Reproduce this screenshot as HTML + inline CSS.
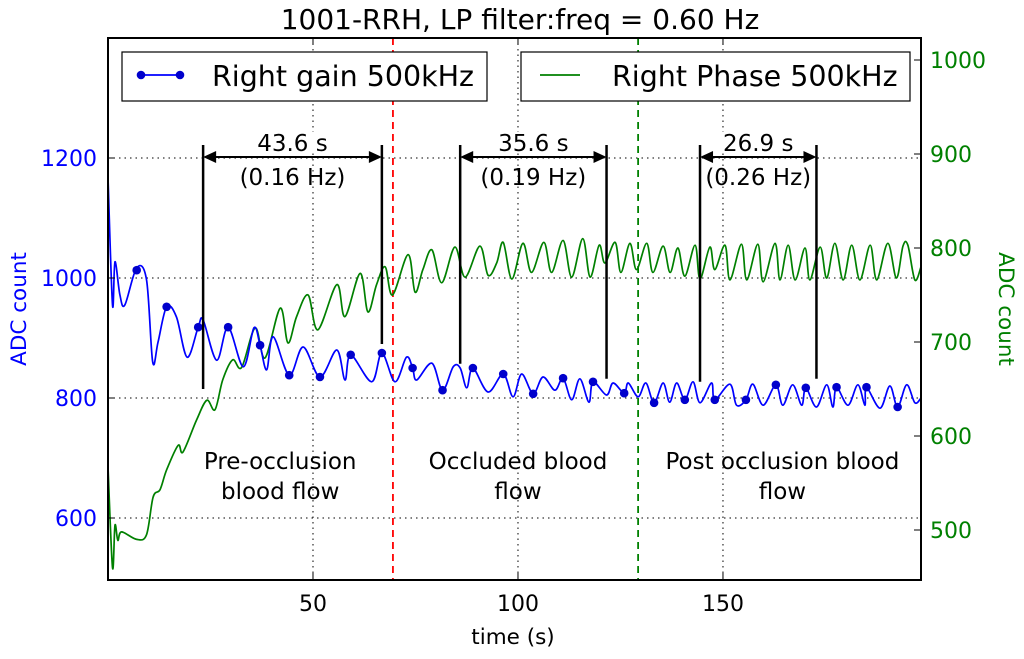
<!DOCTYPE html>
<html><head><meta charset="utf-8"><style>
body{margin:0;background:#fff;}
svg text{font-family:"DejaVu Sans","Liberation Sans",sans-serif;}
</style></head><body>
<svg id="chart" width="1024" height="654" viewBox="0 0 1024 654" xmlns="http://www.w3.org/2000/svg"></svg>
<script>
const xTicks=[50,100,150];
const leftTicks=[600,800,1000,1200];
const rightTicks=[500,600,700,800,900,1000];
const blueT=[0,1.1,1.7,2.9,4.1,7,9.4,10.9,12.2,14.3,16.7,19.3,22,23.2,26.5,29.3,33,35.6,37.1,38.7,40.3,44.2,47.6,51.7,55.8,57.8,59.2,64.3,66.8,70,72.8,74.3,75.3,79,81.6,84.2,85.9,87.5,89,92.7,96.4,98.8,100.9,103.7,106.1,109,111,113.1,115.1,117.3,118.3,121.6,123.2,125.9,126.9,129.3,131.2,133.2,135.4,137,138.7,140.7,142.7,144.4,147.2,148,151.7,153.3,155.6,157.3,159.8,162.9,164.6,167,169.2,170.2,172.8,175.3,176.8,177.7,180.5,182.9,184.6,185,188.3,190.7,192.6,194.8,196.8,198.3];
const blueV=[1168,955,1027,972,955,1017,997,860,893,952,935,868,918,930,863,918,852,917,888,847,902,838,885,835,880,830,872,827,875,827,868,850,830,858,813,852,850,817,850,810,840,802,840,807,835,813,833,797,832,793,827,805,825,808,825,802,825,792,825,793,825,797,827,792,825,797,823,788,797,823,788,822,788,822,788,817,785,822,785,818,788,822,788,818,783,820,785,822,792,800];
const markerT=[7,14.3,22,29.3,37.1,44.2,51.7,59.2,66.8,74.3,81.6,89,96.4,103.7,111,118.3,125.9,133.2,140.7,148,155.6,162.9,170.2,177.7,185,192.6];
const markerV=[1013,952,918,918,888,838,835,872,875,850,813,850,840,807,833,827,808,792,797,797,797,822,817,818,818,785];
const greenT=[0,1.1,1.7,2.4,3.3,7,9.4,11,12.7,14.3,17.1,18.3,21.6,24.1,26.1,28,30.4,32.6,35.9,38.3,42,43.9,46,48.8,51.2,55.8,57.8,61.5,63.4,65.5,67.6,69.4,73.2,74.9,76.8,79,81.4,84.6,87.1,90.7,92.7,94.8,96.4,98.5,101.2,103.3,106.3,108.2,111,113.1,115.8,117.6,119.8,121.2,123.7,125.1,127.3,128.9,131.4,132.9,135.4,137.1,139,140.7,143.2,144.4,146.8,148,150.5,151.7,154.5,155.8,158.5,159.8,162.7,163.9,165.9,167.6,170,171.2,173.7,175.3,177.3,179.3,181.4,183.4,185.9,187.5,190.2,192.3,193.9,195.1,196.8,198.3];
const greenV=[567,460,505,489,498,490,495,535,543,564,590,583,617,638,628,660,681,673,715,683,736,699,727,750,713,761,727,773,732,761,780,750,793,753,777,798,763,801,769,802,771,784,806,767,805,774,806,774,808,769,810,769,803,784,806,774,805,777,805,774,802,774,800,770,803,767,801,777,803,766,804,766,804,764,805,766,803,766,800,766,801,768,805,766,803,766,803,766,805,768,802,803,766,780];
const brackets=[[23.2,66.8,"43.6 s","(0.16 Hz)"],[85.9,121.6,"35.6 s","(0.19 Hz)"],[144.4,172.8,"26.9 s","(0.26 Hz)"]];
const bracketBottomL=[815,890,857,832,827,832];
const regions=[[42,"Pre-occlusion","blood flow"],[100,"Occluded blood","flow"],[164.5,"Post  occlusion blood","flow"]];
const events=[69.5,129.3];

const L=108,R=921,T=38,B=580;
const X=t=>L+t*(R-L)/198.3;
const YL=v=>278-(v-1000)*0.6;
const YR=v=>60+(1000-v)*0.94;
const svg=document.getElementById('chart');
const NS='http://www.w3.org/2000/svg';
function mk(tag,attrs,parent){const e=document.createElementNS(NS,tag);for(const k in attrs)e.setAttribute(k,attrs[k]);(parent||svg).appendChild(e);return e;}
function txt(s,x,y,size,fill,anchor,name){const e=mk('text',{x:x,y:y,'font-size':size,fill:fill,'text-anchor':anchor||'middle'});e.textContent=s;
return e;}
function smooth(pts){let d='M'+pts[0][0]+','+pts[0][1];for(let i=0;i<pts.length-1;i++){const p0=pts[Math.max(0,i-1)],p1=pts[i],p2=pts[i+1],p3=pts[Math.min(pts.length-1,i+2)];
const c1x=p1[0]+(p2[0]-p0[0])/6,c1y=p1[1]+(p2[1]-p0[1])/6,c2x=p2[0]-(p3[0]-p1[0])/6,c2y=p2[1]-(p3[1]-p1[1])/6;d+='C'+c1x+','+c1y+' '+c2x+','+c2y+' '+p2[0]+','+p2[1];}return d;}

xTicks.forEach(t=>{const g=mk('line',{x1:X(t),x2:X(t),y1:T,y2:B,stroke:'#000','stroke-width':1,'stroke-dasharray':'1.5,4'});
});
leftTicks.forEach(v=>{const g=mk('line',{x1:L,x2:R,y1:YL(v),y2:YL(v),stroke:'#000','stroke-width':1,'stroke-dasharray':'1.5,4'});
});

events.forEach((t,i)=>{const e=mk('line',{x1:X(t),x2:X(t),y1:T,y2:B,stroke:i?'#008000':'#ff0000','stroke-width':1.8,'stroke-dasharray':'7,5'});
});

const gp=mk('path',{d:smooth(greenT.map((t,i)=>[X(t),YR(greenV[i])])),fill:'none',stroke:'#008000','stroke-width':1.7});

const bp=mk('path',{d:smooth(blueT.map((t,i)=>[X(t),YL(blueV[i])])),fill:'none',stroke:'#0000ff','stroke-width':1.7});

markerT.forEach((t,i)=>{const c=mk('circle',{cx:X(t),cy:YL(markerV[i]),r:4.3,fill:'#0000cc'});
});

brackets.forEach((b,i)=>{const x1=X(b[0]),x2=X(b[1]),cx=(x1+x2)/2;
[[x1,bracketBottomL[2*i]],[x2,bracketBottomL[2*i+1]]].forEach(p=>{const l=mk('line',{x1:p[0],x2:p[0],y1:145,y2:YL(p[1]),stroke:'#000','stroke-width':2.5});
});
const a=mk('line',{x1:x1+10,x2:x2-10,y1:157,y2:157,stroke:'#000','stroke-width':2});
const h1=mk('polygon',{points:`${x1},157 ${x1+13},151 ${x1+13},163`,fill:'#000'});
const h2=mk('polygon',{points:`${x2},157 ${x2-13},151 ${x2-13},163`,fill:'#000'});
const r1=mk('rect',{x:cx-38,y:132,width:76,height:18,fill:'#fff'});
txt(b[2],cx,151,23,'#000','middle','period-label');
txt(b[3],cx,185,23,'#000','middle','frequency-label');});

regions.forEach(r=>{txt(r[1],X(r[0]),469,23,'#000','middle','region-label');txt(r[2],X(r[0]),499,23,'#000','middle','region-label');});

const f=mk('rect',{x:L,y:T,width:R-L,height:B-T,fill:'none',stroke:'#000','stroke-width':2});
xTicks.forEach(t=>{const k=mk('path',{d:`M${X(t)},${B}v-7M${X(t)},${T}v7`,stroke:'#000','stroke-width':1});
txt(String(t),X(t),611,22,'#000','middle','x-tick-label');});
leftTicks.forEach(v=>{const k=mk('path',{d:`M${L},${YL(v)}h7`,stroke:'#000'});
txt(String(v),97,YL(v)+8,22,'#0000ff','end','left-tick-label');});
rightTicks.forEach(v=>{const k=mk('path',{d:`M${R},${YR(v)}h-7`,stroke:'#000'});
txt(String(v),930,YR(v)+8,22,'#008000','start','right-tick-label');});
txt('time (s)',513,644,21.5,'#000','middle','x-axis-title');
const yl=txt('ADC count',0,0,21.5,'#0000ff','middle','left-y-axis-title');yl.setAttribute('transform','translate(26,309) rotate(-90)');
const yr=txt('ADC count',0,0,21.5,'#008000','middle','right-y-axis-title');yr.setAttribute('transform','translate(999,309) rotate(90)');
txt('1001-RRH, LP filter:freq = 0.60 Hz',520,29,28,'#000','middle','chart-title');

const lg1=mk('g',{});
mk('rect',{x:122,y:52,width:365,height:49,fill:'#fff',stroke:'#000','stroke-width':1.2},lg1);
mk('line',{x1:141,x2:180,y1:75,y2:75,stroke:'#0000ff','stroke-width':1.7},lg1);
mk('circle',{cx:141,cy:75,r:4.3,fill:'#0000cc'},lg1);mk('circle',{cx:180,cy:75,r:4.3,fill:'#0000cc'},lg1);
const t1=txt('Right gain 500kHz',212,86,28.5,'#000','start','legend-label');lg1.appendChild(t1);
const lg2=mk('g',{});
mk('rect',{x:521,y:52,width:389,height:49,fill:'#fff',stroke:'#000','stroke-width':1.2},lg2);
mk('line',{x1:540,x2:580,y1:75,y2:75,stroke:'#008000','stroke-width':1.7},lg2);
const t2=txt('Right Phase 500kHz',612,86,28.5,'#000','start','legend-label');lg2.appendChild(t2);
</script>
</body></html>
